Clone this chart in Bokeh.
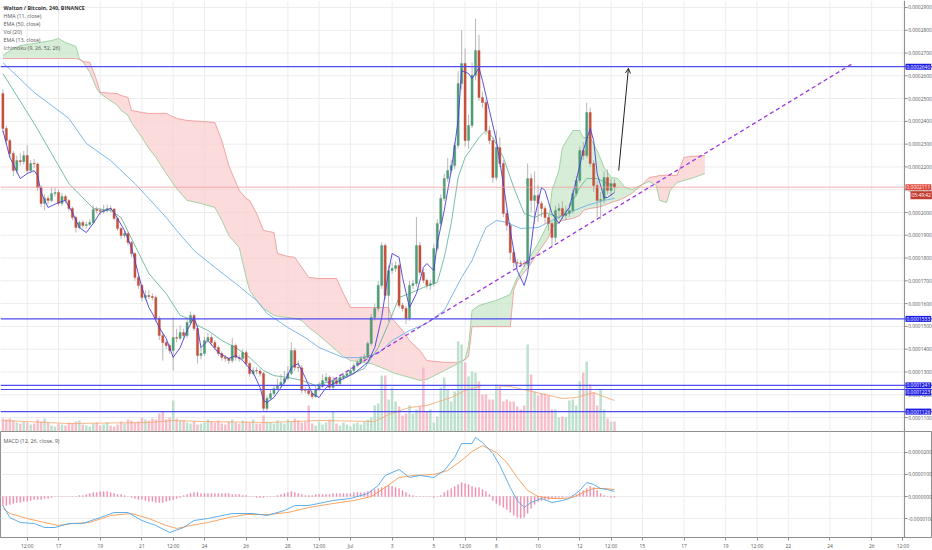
import numpy as np
from bokeh.plotting import figure
from bokeh.models import Range1d, FixedTicker, Span, Label, Arrow, OpenHead
from bokeh.core.properties import value
from bokeh.layouts import column
from bokeh.embed import file_html
from bokeh.resources import INLINE

# ---------------- data: prices in satoshi (1e-8 BTC); x = 4h-candle index from 14 Jun 08:00 -------------
first_open = 25220
close = [23690, 23160, 22590, 21840, 22280, 22230, 22500, 21840, 22150, 22130,
         21100, 20400, 20620, 20530, 20830, 20880, 20400, 20700, 20530, 20180,
         19780, 19340, 19560, 19430, 19470, 19560, 20130, 20090, 20050, 20100,
         20180, 20150, 19740, 19300, 18990, 19080, 18680, 18200, 17150, 16800,
         16270, 16360, 16310, 16270, 15350, 14600, 14290, 14160, 13940, 14510,
         14480, 14730, 14600, 15170, 15480, 14910, 13720, 13810, 14380, 14510,
         14290, 14070, 13810, 13640, 13590, 13500, 14160, 13640, 13590, 13850,
         13370, 12930, 13060, 13040, 12930, 11400, 11840, 12050, 12270, 12400,
         12540, 12710, 12930, 13940, 13200, 13180, 12190, 12180, 12050, 11920,
         12230, 12400, 12620, 12760, 12320, 12620, 12490, 12760, 12840, 12930,
         13060, 13280, 13420, 13590, 13640, 14250, 15390, 15790, 16800, 18550,
         16360, 17450, 17540, 17670, 15920, 15790, 15350, 16800, 16880, 18550,
         17370, 17020, 16800, 16880, 18420, 19520, 20620, 21490, 21840, 22060,
         22940, 25660, 26540, 23160, 23820, 26020, 27110, 25050, 24830, 23600,
         23160, 21540, 22850, 22150, 19960, 19430, 18240, 17800, 17780, 17760,
         17740, 21490, 20530, 20750, 20400, 20180, 19780, 19520, 18900, 20090,
         20180, 19870, 19960, 20090, 20830, 21410, 22720, 22500, 24390, 22150,
         21190, 20530, 20570, 21540, 20970, 21270, 21110]
high = [25400, 23800, 23250, 22700, 22500, 22600, 22700, 22950, 22300, 22350,
        22200, 21200, 20800, 20750, 21100, 21100, 21000, 20850, 20800, 20600,
        20250, 19850, 19650, 19650, 19600, 19700, 20310, 20250, 20200, 20350,
        20350, 20300, 20200, 19800, 19350, 19200, 19150, 18750, 18250, 17250,
        16850, 16600, 16600, 16450, 16350, 15450, 14700, 14400, 14250, 15400,
        14900, 15050, 14900, 15350, 15650, 15550, 15000, 14100, 14550, 14700,
        14650, 14400, 14150, 13900, 13750, 13650, 14500, 14250, 13750, 14000,
        13950, 13450, 13200, 13200, 13150, 13000, 11950, 12200, 12400, 12700,
        12900, 13050, 13250, 14300, 14050, 13500, 13300, 12350, 12300, 12150,
        12400, 12550, 12900, 12950, 12850, 12800, 12750, 12900, 12950, 13050,
        13200, 13400, 13550, 13700, 13800, 14350, 15550, 16000, 17000, 18700,
        18650, 17700, 17800, 17850, 17750, 16050, 15900, 17000, 17050, 19800,
        18700, 17500, 17100, 17050, 18600, 19700, 20800, 21700, 22400, 22300,
        23100, 26200, 28000, 27200, 24300, 26600, 28500, 27800, 25300, 24950,
        23800, 23300, 23600, 23300, 22300, 20100, 19550, 18350, 17950, 17900,
        17900, 22150, 21700, 21800, 21200, 20500, 20300, 19900, 19600, 20300,
        20400, 20500, 20300, 20400, 21000, 21600, 22900, 23100, 24830, 24600,
        22300, 21400, 20900, 21800, 21900, 21500, 21450]
low = [23500, 23000, 22400, 21600, 21700, 22050, 22100, 21700, 21750, 21950,
       20950, 20250, 20090, 20350, 20450, 20700, 20300, 20300, 20400, 20050,
       19650, 19120, 19250, 19300, 19300, 19400, 19500, 19950, 19900, 19950,
       20000, 20000, 19650, 19200, 18850, 18900, 18550, 18050, 17000, 16650,
       16100, 16150, 16200, 16150, 15200, 14400, 13500, 14000, 13800, 13060,
       14300, 14400, 14450, 14500, 15050, 14800, 13370, 13550, 13700, 14300,
       14150, 13950, 13700, 13500, 13450, 13350, 13400, 13500, 13450, 13500,
       13250, 12800, 12850, 12900, 12800, 11260, 11300, 11750, 11950, 12200,
       12300, 12450, 12650, 12850, 13050, 13000, 12050, 12050, 11950, 11800,
       11850, 12150, 12300, 12550, 12200, 12250, 12400, 12400, 12650, 12750,
       12850, 12950, 13200, 13350, 13500, 13550, 14150, 15250, 15650, 16650,
       16200, 15200, 17300, 17400, 15800, 15650, 15100, 15250, 16650, 16750,
       17250, 16900, 16650, 16600, 16750, 18300, 19400, 20500, 21350, 21700,
       21900, 22800, 25400, 22900, 22800, 23700, 25800, 24900, 24600, 23400,
       23000, 21300, 21400, 22000, 19800, 19200, 17900, 17600, 17600, 17600,
       17600, 17650, 20000, 19500, 19600, 19800, 19500, 19200, 18500, 18700,
       19700, 19700, 19650, 19800, 19950, 20700, 21300, 22300, 22400, 22000,
       20900, 19800, 19700, 20400, 20800, 20700, 20900]
volume = [13, 12, 13, 11, 9, 8, 10, 9, 7, 8,
          12, 10, 13, 9, 6, 5, 8, 7, 6, 9,
          8, 10, 11, 7, 6, 5, 8, 9, 6, 7,
          9, 6, 5, 7, 10, 8, 12, 11, 9, 10,
          14, 12, 11, 13, 12, 18, 20, 12, 14, 31,
          13, 11, 11, 9, 8, 10, 7, 8, 9, 12,
          10, 9, 11, 8, 7, 10, 12, 9, 8, 11,
          10, 9, 12, 8, 8, 16, 10, 9, 8, 11,
          9, 8, 12, 10, 13, 11, 9, 10, 26,
          8, 6, 10, 7, 9, 12, 20, 8, 6, 9, 7, 5, 8, 9, 7, 10, 12, 14,
          26, 28, 56, 56, 32, 44, 30, 25, 16, 18, 26, 18, 22, 25, 64, 20, 22, 9, 15,
          44, 54, 42, 30, 40, 90, 87, 69, 55, 60, 59, 50, 37, 37, 32, 32, 47,
          45, 30, 32, 30, 30, 25, 22, 26, 87, 57, 40, 36, 38, 38, 36, 22, 22, 14,
          15, 14, 31, 32, 26, 50, 59, 70, 47, 39, 26, 42, 22, 13, 10, 10]
vol_ma_x = [0, 19, 42, 49, 57, 76, 91, 107, 111, 117, 122, 129, 133, 138, 142, 146,
            151, 156, 161, 165, 168, 170, 172, 176]
vol_ma_y = [11, 8, 9, 11, 10, 9, 11, 10, 17, 24, 26, 34, 41, 46, 46, 45,
            41, 37, 33, 34, 37, 39, 36, 31]

hma_x = [0, 2, 5, 7, 9, 10, 11, 13, 16, 18, 20, 22, 24, 26, 28, 31, 32, 35, 37, 40,
         42, 43, 45, 47, 49, 51, 53, 55, 56, 57, 59, 62, 65, 67, 69, 72, 74, 75, 76, 78,
         81, 83, 85, 87, 89, 91, 93, 97, 101, 105, 107, 109, 111, 112, 114, 115, 117, 119, 121, 122,
         124, 125, 127, 129, 131, 132, 134, 135, 137, 138, 140, 142, 144, 146, 148, 150, 151, 153, 155, 156,
         158, 160, 161, 163, 165, 167, 169, 170, 171, 173, 174, 176]
hma_y = [23600, 22420, 21490, 21710, 21840, 21620, 20880, 20220, 20440, 20530,
         20000, 19340, 19120, 19520, 20000, 20180, 20000, 19210, 18460, 16710,
         15830, 15570, 14950, 14470, 13640, 14070, 14820, 15390, 14950, 14070,
         14380, 13850, 13590, 13720, 13500, 12980, 12320, 11750, 11660, 11880,
         12540, 13200, 13370, 12760, 12050, 11880, 12320, 12630, 12930, 13420,
         14070, 15390, 17450, 18200, 18030, 17150, 15830, 16440, 17590, 17760,
         17450, 18640, 20090, 21840, 24040, 26230, 26100, 25880, 26350, 25800,
         24480, 23160, 21270, 19210, 17450, 16800, 17320, 19780, 21100, 20970,
         19960, 19520, 19780, 20220, 21410, 22720, 23690, 23160, 21710, 20660,
         20660, 20880]
ema13_x = [0, 9, 19, 26, 31, 34, 38, 42, 47, 51, 55, 56, 59, 63, 67, 71, 75, 78, 82, 86,
           90, 98, 104, 108, 111, 114, 117, 121, 125, 127, 129, 131, 133, 135, 137, 139, 141, 144, 147, 150,
           153, 156, 160, 163, 166, 168, 171, 174, 176]
ema13_y = [26100, 23910, 21270, 20180, 20090, 19780, 18550, 17320, 16440, 15480,
           15260, 15040, 14820, 14380, 14070, 13640, 13060, 12840, 12760, 12630,
           12410, 12760, 13150, 14070, 15130, 16270, 16440, 16710, 16930, 18030,
           19520, 21540, 22420, 22850, 23290, 23600, 23290, 22420, 21100, 19960,
           19780, 20000, 19780, 20220, 21100, 21490, 21490, 21270, 21190]
ema50_x = [0, 9, 19, 24, 31, 38, 42, 47, 50, 55, 61, 67, 73, 76, 82, 87, 91, 98, 103, 108,
           112, 117, 122, 127, 132, 135, 137, 139, 142, 145, 149, 154, 158, 163, 168, 173, 176]
ema50_y = [26580, 25270, 24130, 23030, 22280, 21270, 20610, 19780, 19210, 18330,
           17590, 16880, 16140, 15570, 14950, 14510, 14070, 13630, 13630, 13810,
           14380, 14820, 15130, 15700, 17150, 17890, 18640, 19340, 19650, 19560,
           19300, 19340, 19650, 20000, 20310, 20530, 20620]

cloud_x = [0, 2, 5, 9, 14, 16, 18, 21, 22, 23, 25, 27, 28, 33, 34, 36, 37, 40, 42, 44,
           47, 50, 53, 57, 61, 63, 65, 68, 70, 71, 73, 75, 78, 79, 82, 84, 86, 88, 91, 96,
           98, 100, 106, 111, 112, 115, 117, 120, 122, 127, 131, 133, 134, 135, 137, 142, 146, 147, 148, 151,
           154, 157, 158, 160, 161, 164, 166, 167, 169, 171, 173, 175, 177, 179, 181, 184, 186, 188, 189, 191,
           192, 194, 196, 198, 202]
span_a = [26890, 27110, 27330, 27420, 27550, 27640, 27460, 27290, 26760, 26630,
          26150, 25440, 25220, 24700, 24480, 24260, 23950, 23290, 22810, 22420,
          21710, 21050, 20530, 20400, 20220, 19650, 18990, 18460, 17150, 16580,
          16140, 15790, 15480, 15440, 15390, 15350, 15260, 14950, 14600, 13940,
          13680, 13500, 13370, 13060, 12980, 12840, 12760, 12630, 12670, 13060,
          13370, 13550, 14160, 15700, 15920, 16140, 16400, 16800, 17150, 17900,
          18640, 19560, 20970, 21840, 22850, 23600, 23600, 23290, 23290, 22720,
          21980, 21540, 21490, 21100, 21010, 21230, 21360, 21190, 20530, 20440,
          20970, 21320, 21410, 21490, 21710]
span_b = [26760, 26760, 26760, 26760, 26760, 26760, 26760, 26760, 26720, 26630,
          26590, 25800, 25270, 25220, 25140, 25050, 24480, 24390, 24350, 24350,
          24350, 24130, 24040, 24000, 23950, 23160, 22060, 20970, 20610, 20530,
          19960, 19210, 19120, 18200, 18070, 18030, 17590, 17150, 17100, 17100,
          16440, 15830, 15830, 15830, 15350, 14820, 14380, 13940, 13500, 13420,
          13420, 13550, 13680, 14990, 14990, 14990, 14990, 16600, 17000, 17550,
          18250, 18900, 19340, 19560, 19650, 19740, 19870, 20090, 20180, 20220,
          20310, 20440, 20530, 20660, 20840, 21230, 21540, 21580, 21630, 21630,
          21630, 21630, 22420, 22460, 22500]

macd_x = [0, 2, 5, 9, 12, 15, 19, 23, 28, 32, 36, 40, 44, 48, 52, 55, 59, 66, 72, 76,
          81, 84, 88, 95, 100, 105, 108, 110, 114, 117, 120, 124, 127, 130, 132, 135, 136, 138, 141, 143,
          146, 148, 150, 152, 155, 158, 161, 163, 166, 168, 170, 172, 174, 176]
macd_y = [-409, -955, -1182, -1227, -1409, -1409, -1227, -1227, -955, -727,
          -727, -1091, -1318, -1636, -1409, -1091, -1000, -773, -773, -864,
          -636, -409, -409, -182, -91, 136, 500, 955, 1227, 864,
          955, 864, 1182, 1773, 2409, 2409, 2682, 2454, 1954, 1409,
          409, -182, -500, -273, -91, -273, -182, -91, 273, 636,
          545, 364, 318, 227]
signal_x = [0, 2, 7, 12, 16, 20, 25, 31, 37, 42, 47, 50, 54, 59, 65, 70, 76, 82, 88, 95,
            101, 106, 110, 114, 118, 124, 128, 132, 135, 138, 142, 145, 148, 151, 154, 158, 161, 164, 167, 170,
            173, 176]
signal_y = [-545, -773, -1000, -1182, -1318, -1227, -1182, -864, -773, -1000,
            -1318, -1454, -1318, -1182, -955, -818, -818, -727, -500, -318,
            -182, 0, 409, 864, 955, 1000, 1182, 1636, 2045, 2318,
            2000, 1545, 864, 273, 0, -91, -91, -45, 182, 364,
            364, 318]
hist = [-405, -405, -360, -315, -270, -270, -225, -225, -180, -135,
        -135, -135, -90, -90, -45, 0, 0, 0, 0, 0,
        0, 0, 45, 45, 90, 135, 180, 180, 225, 225,
        225, 180, 135, 90, 90, 45, 0, -45, -90, -135,
        -135, -180, -225, -225, -270, -270, -270, -225, -180, -135,
        -90, -45, 45, 90, 135, 180, 180, 135, 135, 135,
        135, 135, 135, 135, 135, 135, 90, 90, 90, 45,
        45, 0, 0, -45, -45, -45, 0, 0, 0, 45,
        90, 135, 180, 225, 180, 135, 90, 45, 45, 45,
        90, 90, 90, 90, 90, 135, 135, 135, 135, 135,
        135, 180, 180, 180, 180, 225, 270, 315, 360, 405,
        450, 495, 450, 405, 360, 270, 180, 90, 45, 0,
        0, 0, 0, 0, -45, 0, 45, 180, 270, 360,
        450, 540, 630, 585, 540, 450, 405, 405, 315, 225,
        90, -180, -315, -405, -495, -585, -720, -855, -945, -990,
        -945, -765, -540, -360, -225, -180, -135, -135, -90, -90,
        -45, -45, 0, 0, 45, 90, 180, 270, 360, 450,
        405, 270, 135, 45, 0, -45, -45]

level_prices = [26400, 15330, 12410, 12230, 11260]
trend_x = [90.0, 244.5]
trend_y = [12190, 26540]
arrow_x = [177.2, 180.0]
arrow_y = [21840, 26330]

tick_idx = [7, 16, 28, 40, 49, 58, 70, 82, 91, 100, 112, 124, 133, 142, 154, 166, 175,
            184, 196, 208, 217, 226, 238, 250, 259]
tick_lab = ["12:00", "17", "19", "21", "12:00", "24", "26", "28", "12:00", "Jul", "3", "5",
            "12:00", "8", "10", "12", "12:00", "15", "17", "19", "12:00", "22", "24", "26", "12:00"]
price_ticks = [11000, 12000, 13000, 14000, 15000, 16000, 17000, 18000, 19000, 20000,
               21000, 22000, 23000, 24000, 25000, 26000, 27000, 28000, 29000]
macd_ticks = [-1000, 0, 1000, 2000]
legend_lines = ["Walton / Bitcoin, 240, BINANCE", "HMA (11, close)", "EMA (50, close)",
                "Vol (20)", "EMA (13, close)", "Ichimoku (9, 26, 52, 26)"]
macd_legend = "MACD (12, 26, close, 9)"
countdown = "05:49:42"

# ---------------- build ----------------
SAT = 1e-8
FONT = "Open Sans"
W = 932
MAIN_H = 431
MACD_H = 106
XAX_H = 13
X0, X1 = -0.69, 267.5          # candle-index range across the full width
AX = 259.45                    # price-scale edge (right axis line)
UP, DOWN = "#4f9c76", "#c4503d"
GRID = "#ececec"
AXC = "#8f8f8f"
LBL = "#555555"
FS = "4.9px"

c = np.array(close) * SAT
o = np.array([first_open] + close[:-1]) * SAT
h = np.array(high) * SAT
l = np.array(low) * SAT
idx = np.arange(len(close))
up = c >= o
body_col = [UP if u else DOWN for u in up]
vol_col = ["#b3dcc6" if u else "#f6b4c2" for u in up]

xr = Range1d(X0, X1)


def price_scale(p, ticks, lo):
    """right-hand price scale drawn inside the frame, next to the plotting area"""
    tv = [t * SAT for t in ticks]
    g = p.segment(x0=[lo] * len(tv), y0=tv, x1=[AX] * len(tv), y1=tv, line_color=GRID, line_width=1)
    g.level = "underlay"
    p.segment(x0=[AX] * len(tv), y0=tv, x1=[AX + 0.9] * len(tv), y1=tv, line_color=AXC, line_width=1)
    p.text(x=[AX + 1.05] * len(tv), y=tv, text=[f"{v:.7f}" for v in tv],
           text_font=value(FONT), text_font_size=FS, text_color=LBL, text_baseline="middle",
           text_align="left")
    for t in tick_idx:
        p.add_layout(Span(location=t, dimension="height", line_color=GRID, line_width=1, level="underlay"))
    p.add_layout(Span(location=AX, dimension="height", line_color=AXC, line_width=1))


main = figure(frame_width=W, frame_height=MAIN_H, x_range=xr,
              y_range=Range1d(10386 * SAT, 29307 * SAT),
              x_axis_location=None, y_axis_location=None,
              output_backend="svg", toolbar_location=None, min_border=0)
main.extra_y_ranges = {"vol": Range1d(0, MAIN_H)}
main.outline_line_color = None
main.grid.visible = False
price_scale(main, price_ticks, X0)

# Ichimoku cloud
ca = np.array(span_a) * SAT
cb = np.array(span_b) * SAT
top = np.maximum(ca, cb)
main.varea(x=cloud_x, y1=cb, y2=top, fill_color="#c9e7cb", fill_alpha=0.75)
main.varea(x=cloud_x, y1=ca, y2=top, fill_color="#fbcfd0", fill_alpha=0.75)
main.line(cloud_x, ca, line_color="#8ccb90", line_width=0.8)
main.line(cloud_x, cb, line_color="#ef9191", line_width=0.8)

# volume
main.vbar(x=idx, top=volume, bottom=0, width=0.72, fill_color=vol_col, line_color=None,
          fill_alpha=0.85, y_range_name="vol")
main.line(vol_ma_x, vol_ma_y, line_color="#f4a56a", line_width=0.8, y_range_name="vol")

# moving averages
main.line(ema50_x, np.array(ema50_y) * SAT, line_color="#6fb0e8", line_width=0.9)
main.line(ema13_x, np.array(ema13_y) * SAT, line_color="#66b79e", line_width=0.9)

# candles
main.segment(idx, h, idx, l, line_color="#9a9a9a", line_width=0.7)
main.vbar(x=idx, top=np.maximum(o, c), bottom=np.minimum(o, c), width=0.62,
          fill_color=body_col, line_color=body_col, line_width=0.4)
main.line(hma_x, np.array(hma_y) * SAT, line_color="#4a3fd6", line_width=0.9)

# drawings
main.line(trend_x, np.array(trend_y) * SAT, line_color="#9b35dd", line_width=1.3, line_dash="4 3")
main.add_layout(Arrow(x_start=arrow_x[0], y_start=arrow_y[0] * SAT, x_end=arrow_x[1], y_end=arrow_y[1] * SAT,
                      line_color="#222222", line_width=1,
                      end=OpenHead(size=5, line_color="#222222", line_width=1)))
for lp in level_prices:
    main.add_layout(Span(location=lp * SAT, dimension="width", line_color="#4d4df2", line_width=1.2))
main.add_layout(Span(location=close[-1] * SAT, dimension="width", line_color="#f0a0a0", line_width=0.8))

# price tags on the scale
for k, lp in enumerate(level_prices):
    main.add_layout(Label(x=AX, y=lp * SAT, x_offset=1, y_offset=(-3 if k == 3 else 0),
                          text=f"{lp * SAT:.7f}", text_font=FONT, text_font_size=FS,
                          text_color="white", text_baseline="middle", padding=1,
                          background_fill_color="#1b1be6"))
main.add_layout(Label(x=AX, y=close[-1] * SAT, x_offset=1, text=f"{close[-1] * SAT:.7f}",
                      text_font=FONT, text_font_size=FS, text_color="white", padding=1,
                      text_baseline="middle", background_fill_color="#e0483b"))
main.add_layout(Label(x=AX, y=close[-1] * SAT, x_offset=6, y_offset=-8, text=countdown,
                      text_font=FONT, text_font_size=FS, text_color="white", padding=1,
                      text_baseline="middle", background_fill_color="#c23c31"))

# legend text
for k, t in enumerate(legend_lines):
    main.add_layout(Label(x=3, y=MAIN_H - 7 - 8 * k, x_units="screen", y_units="screen", text=t,
                          text_font=FONT, text_font_size="5.3px",
                          text_color="#333333" if k == 0 else LBL,
                          text_font_style="bold" if k == 0 else "normal",
                          text_baseline="middle"))

# ---------------- MACD panel ----------------
mp = figure(frame_width=W, frame_height=MACD_H, x_range=xr,
            y_range=Range1d(-1863 * SAT, 2954 * SAT), y_axis_location=None,
            output_backend="svg", toolbar_location=None, min_border=0, min_border_bottom=XAX_H)
mp.outline_line_color = AXC
mp.grid.visible = False
price_scale(mp, macd_ticks, X0)
mp.vbar(x=idx, top=np.array(hist) * SAT, bottom=0, width=0.3, fill_color="#ef87aa",
        line_color="#ef87aa", line_width=0.3)
mp.line(signal_x, np.array(signal_y) * SAT, line_color="#f59b55", line_width=0.9)
mp.line(macd_x, np.array(macd_y) * SAT, line_color="#4ea6ea", line_width=0.9)
mp.xaxis.ticker = FixedTicker(ticks=tick_idx)
mp.xaxis.major_label_overrides = {t: s for t, s in zip(tick_idx, tick_lab)}
ax = mp.xaxis[0]
ax.major_label_text_font = FONT
ax.major_label_text_font_size = FS
ax.major_label_text_color = LBL
ax.axis_line_color = AXC
ax.major_tick_line_color = AXC
ax.major_tick_out = 3
ax.major_tick_in = 0
ax.minor_tick_line_color = None
ax.major_label_standoff = 2
mp.add_layout(Label(x=3, y=MACD_H - 9, x_units="screen", y_units="screen", text=macd_legend,
                    text_font=FONT, text_font_size="5.3px", text_color=LBL,
                    text_baseline="middle"))

layout = column(main, mp, spacing=0)
open("out.html", "w").write(file_html(layout, INLINE))
